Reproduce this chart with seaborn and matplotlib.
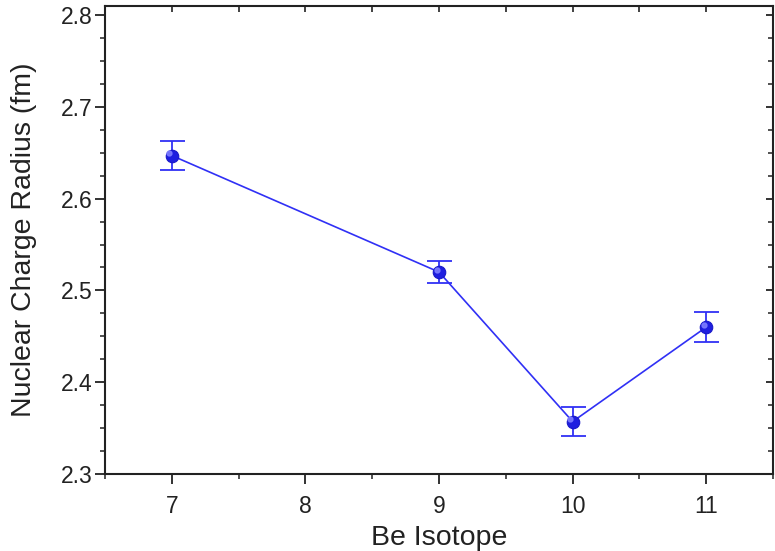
import matplotlib
matplotlib.use("Agg")
import matplotlib.pyplot as plt
from matplotlib.ticker import MultipleLocator, FormatStrFormatter
import matplotlib.transforms as mtransforms
import seaborn as sns
import pandas as pd

# Beryllium isotope charge radii
isotopes = [7, 9, 10, 11]
radius_fm = [2.647, 2.520, 2.357, 2.460]
radius_err = [0.016, 0.012, 0.016, 0.016]

df = pd.DataFrame({"isotope": isotopes, "radius": radius_fm, "err": radius_err})

sns.set_theme(style="ticks")
plt.rcParams["font.family"] = ["Liberation Sans", "DejaVu Sans"]

fig = plt.figure(figsize=(7.75, 5.51), dpi=100)
ax = fig.add_axes([0.1355, 0.140, 0.862, 0.849])

ink = "#222222"
blue = "#3030f5"
ax.errorbar(df["isotope"], df["radius"], yerr=df["err"], fmt="none",
            ecolor=blue, elinewidth=1.3, capsize=9, capthick=1.3, zorder=2)
sns.lineplot(data=df, x="isotope", y="radius", ax=ax, color=blue,
             linewidth=1.2, marker="o", markersize=9,
             markerfacecolor="#1f1fe0", markeredgecolor="#1818c8",
             markeredgewidth=0.8, zorder=3)
# soft highlight on each marker
ax.plot(df["isotope"], df["radius"], linestyle="none", marker="o",
        markersize=3.5, color="#7d7dff", alpha=0.9, zorder=4,
        transform=ax.transData + mtransforms.ScaledTranslation(
            -1.8 / 72, 1.8 / 72, fig.dpi_scale_trans))

ax.set_xlim(6.5, 11.5)
ax.set_ylim(2.3, 2.81)
ax.xaxis.set_major_locator(MultipleLocator(1))
ax.xaxis.set_minor_locator(MultipleLocator(0.5))
ax.yaxis.set_major_locator(MultipleLocator(0.1))
ax.yaxis.set_minor_locator(MultipleLocator(0.025))
ax.yaxis.set_major_formatter(FormatStrFormatter("%.1f"))

ax.tick_params(which="major", direction="out", length=7, width=1.3,
               labelsize=16.5, colors=ink, labelcolor=ink,
               top=False, right=False)
ax.tick_params(which="minor", direction="out", length=3.5, width=1.1,
               colors=ink, top=False, right=False)
ax.tick_params(axis="x", which="major", pad=8)
ax.tick_params(axis="y", which="major", pad=2)

for sp in ax.spines.values():
    sp.set_visible(True)
    sp.set_linewidth(1.5)
    sp.set_color(ink)

# mirrored inward ticks on top and right
secx = ax.secondary_xaxis("top")
secx.xaxis.set_major_locator(MultipleLocator(0.5))
secx.tick_params(which="major", direction="in", length=4, width=1.2,
                 labeltop=False, colors=ink)
secx.spines["top"].set_visible(False)
secy = ax.secondary_yaxis("right")
secy.yaxis.set_major_locator(MultipleLocator(0.1))
secy.yaxis.set_minor_locator(MultipleLocator(0.025))
secy.tick_params(which="major", direction="in", length=5, width=1.3,
                 labelright=False, colors=ink)
secy.tick_params(which="minor", direction="in", length=3.5, width=1.1,
                 colors=ink)
secy.spines["right"].set_visible(False)

ax.set_xlabel("Be Isotope", fontsize=20.5, color=ink, labelpad=5)
ax.set_ylabel("Nuclear Charge Radius (fm)", fontsize=20.5, color=ink,
              labelpad=17)

fig.savefig("out.png", dpi=100)
